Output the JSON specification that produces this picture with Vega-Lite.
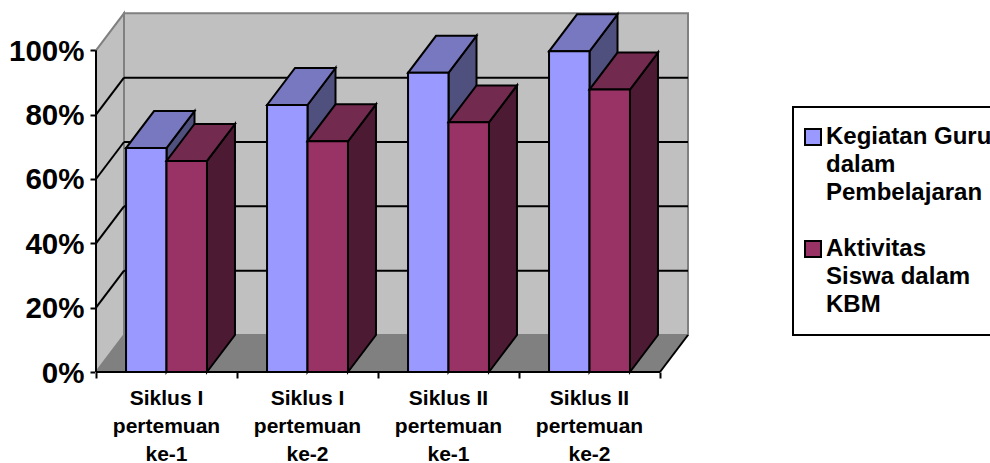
{
"$schema":"https://vega.github.io/schema/vega-lite/v6.json",
"width":592,"height":359,
"autosize":{"type":"none"},
"padding":{"left":96,"top":13,"right":302,"bottom":91},
"background":"white",
"datasets":{
"bars":[
{"group":"Siklus I pertemuan ke-1","series":"Kegiatan Guru dalam Pembelajaran","value":69.6},
{"group":"Siklus I pertemuan ke-1","series":"Aktivitas Siswa dalam KBM","value":65.6},
{"group":"Siklus I pertemuan ke-2","series":"Kegiatan Guru dalam Pembelajaran","value":83},
{"group":"Siklus I pertemuan ke-2","series":"Aktivitas Siswa dalam KBM","value":71.7},
{"group":"Siklus II pertemuan ke-1","series":"Kegiatan Guru dalam Pembelajaran","value":93},
{"group":"Siklus II pertemuan ke-1","series":"Aktivitas Siswa dalam KBM","value":77.6},
{"group":"Siklus II pertemuan ke-2","series":"Kegiatan Guru dalam Pembelajaran","value":99.7},
{"group":"Siklus II pertemuan ke-2","series":"Aktivitas Siswa dalam KBM","value":87.8}],
"gridTicks":[{"tick":20},{"tick":40},{"tick":60},{"tick":80}],
"base":[{"tick":0}]
},
"data":{"name":"bars"},
"transform":[
{"calculate":"indexof(['Siklus I pertemuan ke-1','Siklus I pertemuan ke-2','Siklus II pertemuan ke-1','Siklus II pertemuan ke-2'],datum.group)","as":"i"},
{"calculate":"datum.i+0.5-(datum.series=='Kegiatan Guru dalam Pembelajaran'?0.287:0)","as":"xl"},
{"calculate":"datum.xl+0.287","as":"xr"}
],
"layer":[
{"data":{"name":"base"},
"mark":{"type":"rect","fill":"#c0c0c0","stroke":"#808080","strokeWidth":2},
"encoding":{
"x":{"datum":0.1986,"type":"quantitative","scale":{"domain":[0,4.1986],"nice":false,"zero":false},
"axis":{"title":null,"values":[0,1,2,3,4],"grid":false,"domain":false,"tickColor":"black","tickWidth":2,"tickSize":6,"labelOffset":70,"labelPadding":9,"labelFont":"Liberation Sans","labelFontWeight":"bold","labelFontSize":21,"labelColor":"black","labelLineHeight":28,"labelBaseline":"top","labelOverlap":false,"labelFlush":false,"labelBound":false,
"labelExpr":"datum.value==0?['Siklus I','pertemuan','ke-1']:datum.value==1?['Siklus I','pertemuan','ke-2']:datum.value==2?['Siklus II','pertemuan','ke-1']:datum.value==3?['Siklus II','pertemuan','ke-2']:''"}},
"x2":{"datum":4.1986},
"y":{"datum":11.5,"type":"quantitative","scale":{"domain":[0,111.6],"nice":false,"zero":false},
"axis":{"title":null,"values":[0,20,40,60,80,100],"grid":false,"domain":false,"tickColor":"black","tickWidth":2,"tickSize":6,"labelPadding":6,"labelOffset":1,"labelFont":"Liberation Sans","labelFontWeight":"bold","labelFontSize":29.5,"labelColor":"black","labelExpr":"datum.value+'%'"}},
"y2":{"datum":111.5}}},
{"data":{"name":"base"},
"transform":[{"calculate":"[0,1]","as":"t"},{"flatten":["t"]},{"calculate":"datum.t*0.1986","as":"x"},{"calculate":"datum.t*11.5","as":"yb"},{"calculate":"100+datum.t*11.5","as":"yt"}],
"mark":{"type":"area","fill":"#c0c0c0","stroke":"#808080","strokeWidth":2},
"encoding":{"x":{"field":"x","type":"quantitative"},"y":{"field":"yb","type":"quantitative","stack":null},"y2":{"field":"yt"}}},
{"data":{"name":"base"},
"transform":[{"calculate":"[0,1,2,3]","as":"t"},{"flatten":["t"]},{"calculate":"[0,0.1986,4,4.1986][datum.t]","as":"x"},{"calculate":"[0,0,0,11.5][datum.t]","as":"yb"},{"calculate":"[0,11.5,11.5,11.5][datum.t]","as":"yt"}],
"mark":{"type":"area","fill":"#808080"},
"encoding":{"x":{"field":"x","type":"quantitative"},"y":{"field":"yb","type":"quantitative","stack":null},"y2":{"field":"yt"}}},
{"data":{"name":"gridTicks"},
"transform":[{"calculate":"datum.tick+11.5","as":"back"}],
"mark":{"type":"rule","color":"black","strokeWidth":2},
"encoding":{"x":{"datum":0.1986,"type":"quantitative"},"x2":{"datum":4.1986},"y":{"field":"back","type":"quantitative"}}},
{"data":{"name":"gridTicks"},
"transform":[{"calculate":"datum.tick+11.5","as":"back"}],
"mark":{"type":"rule","color":"black","strokeWidth":2},
"encoding":{"x":{"datum":0,"type":"quantitative"},"x2":{"datum":0.1986},"y":{"field":"tick","type":"quantitative"},"y2":{"field":"back"}}},
{"data":{"name":"base"},
"mark":{"type":"rule","color":"black","strokeWidth":2},
"encoding":{"x":{"datum":4,"type":"quantitative"},"x2":{"datum":4.1986},"y":{"datum":0,"type":"quantitative"},"y2":{"datum":11.5}}},
{"transform":[{"filter":"datum.series=='Kegiatan Guru dalam Pembelajaran'"},{"calculate":"[0,1]","as":"t"},{"flatten":["t"]},{"calculate":"datum.xr+datum.t*0.1986","as":"x"},{"calculate":"datum.t*11.5","as":"yb"},{"calculate":"datum.value+datum.t*11.5","as":"yt"}],
"mark":{"type":"area","fill":"#50507f","stroke":"black","strokeWidth":2,"strokeJoin":"miter"},
"encoding":{"x":{"field":"x","type":"quantitative"},"y":{"field":"yb","type":"quantitative","stack":null},"y2":{"field":"yt"},"detail":{"field":"group"}}},
{"transform":[{"filter":"datum.series=='Kegiatan Guru dalam Pembelajaran'"},{"calculate":"[0,1,2,3]","as":"t"},{"flatten":["t"]},{"calculate":"datum.xl+[0,0.1986,0.287,0.4856][datum.t]","as":"x"},{"calculate":"datum.value+[0,0,0,11.5][datum.t]","as":"yb"},{"calculate":"datum.value+[0,11.5,11.5,11.5][datum.t]","as":"yt"}],
"mark":{"type":"area","fill":"#7878c0","stroke":"black","strokeWidth":2,"strokeJoin":"miter"},
"encoding":{"x":{"field":"x","type":"quantitative"},"y":{"field":"yb","type":"quantitative","stack":null},"y2":{"field":"yt"},"detail":{"field":"group"}}},
{"transform":[{"filter":"datum.series=='Kegiatan Guru dalam Pembelajaran'"}],
"mark":{"type":"rect","stroke":"black","strokeWidth":2},
"encoding":{"x":{"field":"xl","type":"quantitative"},"x2":{"field":"xr"},"y":{"field":"value","type":"quantitative"},"y2":{"datum":0},
"color":{"field":"series","type":"nominal","scale":{"domain":["Kegiatan Guru dalam Pembelajaran","Aktivitas Siswa dalam KBM"],"range":["#9999ff","#993366"]},
"legend":{"title":null,"orient":"none","legendX":697,"legendY":94,"padding":18,"strokeColor":"black","fillColor":"white","symbolType":"square","symbolSize":256,"symbolOffset":-10,"symbolStrokeColor":"black","symbolStrokeWidth":2,"symbolOpacity":1,"labelOffset":1,"labelFont":"Liberation Sans","labelFontWeight":"bold","labelFontSize":24,"labelColor":"black","labelLimit":400,"labelBaseline":"middle","rowPadding":32,
"labelExpr":"datum.label=='Kegiatan Guru dalam Pembelajaran'?['Kegiatan Guru','dalam','Pembelajaran']:['Aktivitas','Siswa dalam','KBM']",
"encode":{"legend":{"update":{"strokeWidth":{"value":2}}},"labels":{"update":{"lineHeight":{"value":28}}}}}}}},
{"transform":[{"filter":"datum.series=='Aktivitas Siswa dalam KBM'"},{"calculate":"[0,1]","as":"t"},{"flatten":["t"]},{"calculate":"datum.xr+datum.t*0.1986","as":"x"},{"calculate":"datum.t*11.5","as":"yb"},{"calculate":"datum.value+datum.t*11.5","as":"yt"}],
"mark":{"type":"area","fill":"#4d1a33","stroke":"black","strokeWidth":2,"strokeJoin":"miter"},
"encoding":{"x":{"field":"x","type":"quantitative"},"y":{"field":"yb","type":"quantitative","stack":null},"y2":{"field":"yt"},"detail":{"field":"group"}}},
{"transform":[{"filter":"datum.series=='Aktivitas Siswa dalam KBM'"},{"calculate":"[0,1,2,3]","as":"t"},{"flatten":["t"]},{"calculate":"datum.xl+[0,0.1986,0.287,0.4856][datum.t]","as":"x"},{"calculate":"datum.value+[0,0,0,11.5][datum.t]","as":"yb"},{"calculate":"datum.value+[0,11.5,11.5,11.5][datum.t]","as":"yt"}],
"mark":{"type":"area","fill":"#732a4f","stroke":"black","strokeWidth":2,"strokeJoin":"miter"},
"encoding":{"x":{"field":"x","type":"quantitative"},"y":{"field":"yb","type":"quantitative","stack":null},"y2":{"field":"yt"},"detail":{"field":"group"}}},
{"transform":[{"filter":"datum.series=='Aktivitas Siswa dalam KBM'"}],
"mark":{"type":"rect","stroke":"black","strokeWidth":2},
"encoding":{"x":{"field":"xl","type":"quantitative"},"x2":{"field":"xr"},"y":{"field":"value","type":"quantitative"},"y2":{"datum":0},
"color":{"field":"series","type":"nominal"}}},
{"data":{"name":"base"},
"mark":{"type":"rule","color":"black","strokeWidth":2},
"encoding":{"x":{"datum":0,"type":"quantitative"},"x2":{"datum":4},"y":{"datum":0,"type":"quantitative"}}},
{"data":{"name":"base"},
"mark":{"type":"rule","color":"black","strokeWidth":2},
"encoding":{"x":{"datum":0,"type":"quantitative"},"y":{"datum":0,"type":"quantitative"},"y2":{"datum":100}}}
],
"config":{"view":{"stroke":null}}
}
